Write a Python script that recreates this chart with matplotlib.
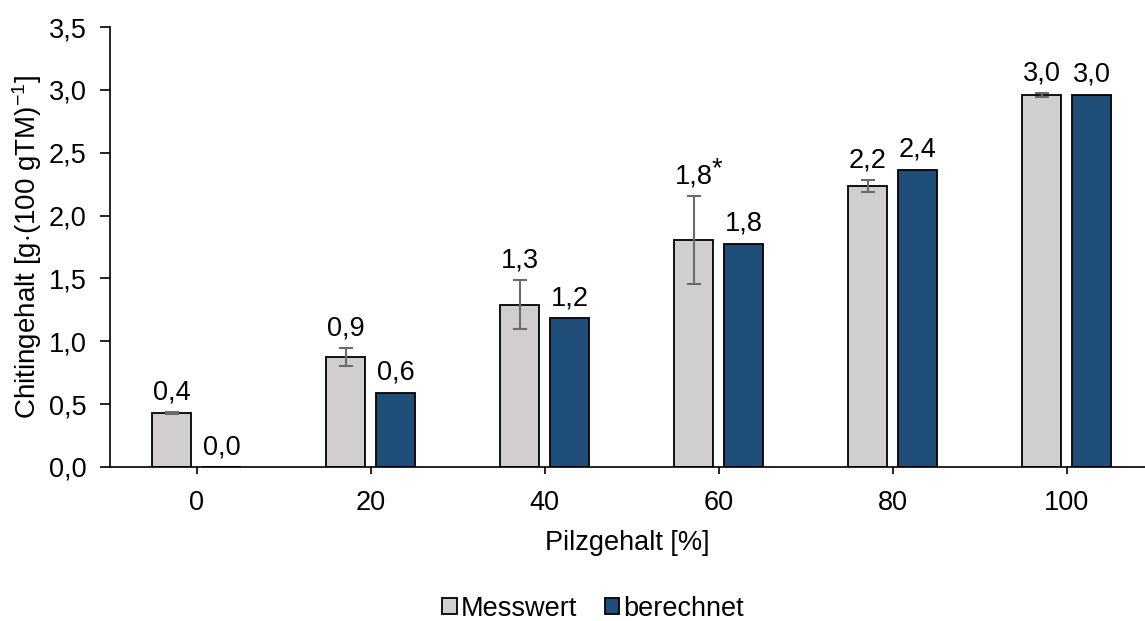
import matplotlib
matplotlib.use("Agg")
import matplotlib.pyplot as plt
import numpy as np

plt.rcParams['font.family'] = ['Liberation Sans', 'DejaVu Sans']
plt.rcParams['mathtext.fontset'] = 'custom'
plt.rcParams['mathtext.rm'] = 'Liberation Sans'
plt.rcParams['mathtext.it'] = 'Liberation Sans:italic'

# Data
categories = ["0", "20", "40", "60", "80", "100"]
messwert = [0.43, 0.875, 1.29, 1.805, 2.235, 2.96]
messwert_err = [0.006, 0.07, 0.195, 0.35, 0.045, 0.015]
berechnet = [0.0, 0.59, 1.185, 1.775, 2.365, 2.96]
label_messwert = ["0,4", "0,9", "1,3", "1,8", "2,2", "3,0"]
label_berechnet = ["0,0", "0,6", "1,2", "1,8", "2,4", "3,0"]
star_index = 3
yticks = [0.0, 0.5, 1.0, 1.5, 2.0, 2.5, 3.0, 3.5]

grey = "#d0cece"
navy = "#1f4e79"
fs = 19.5

fig = plt.figure(figsize=(11.45, 6.21), dpi=100)
ax = fig.add_axes([0.096, 0.248, 0.904, 0.7085])

x = np.arange(len(categories))
w = 0.224
off = 0.144

b1 = ax.bar(x - off, messwert, w, color=grey, edgecolor="black", linewidth=1.3,
            label="Messwert", zorder=2)
b2 = ax.bar(x + off, berechnet, w, color=navy, edgecolor="black", linewidth=1.3,
            label="berechnet", zorder=2)
ax.errorbar(x - off, messwert, yerr=messwert_err, fmt="none", ecolor="#6b6b6b",
            elinewidth=1.5, capsize=5, capthick=1.5, zorder=3)

for i in range(len(categories)):
    top = messwert[i] + messwert_err[i]
    ax.annotate(label_messwert[i], (x[i] - off, top), xytext=(0, 5),
                textcoords="offset points", ha="center", va="bottom", fontsize=fs)
    if i == star_index:
        ax.annotate("*", (x[i] - off, top), xytext=(13, 14.5),
                    textcoords="offset points", ha="left", va="baseline", fontsize=fs)
    ax.annotate(label_berechnet[i], (x[i] + off, berechnet[i]), xytext=(0, 5),
                textcoords="offset points", ha="center", va="bottom", fontsize=fs)

ax.set_xlim(-0.5, 5.45)
ax.set_ylim(0, 3.5)
ax.set_xticks(x)
ax.set_xticklabels(categories, fontsize=fs)
ax.set_yticks(yticks)
ax.set_yticklabels([f"{v:.1f}".replace(".", ",") for v in yticks], fontsize=fs)
ax.tick_params(axis="y", direction="out", length=7, width=1.2, pad=10)
ax.tick_params(axis="x", direction="out", length=5, width=1.2, pad=11.5)

for s in ["top", "right"]:
    ax.spines[s].set_visible(False)
ax.spines["left"].set_linewidth(1.2)
ax.spines["bottom"].set_linewidth(1.2)

ax.set_xlabel("Pilzgehalt [%]", fontsize=fs, labelpad=10)
ax.set_ylabel(r"Chitingehalt [g$\cdot$(100 gTM)$^{\mathregular{-1}}$]", fontsize=20, labelpad=3)

fig.legend(handles=[b1, b2], labels=["Messwert", "berechnet"], loc="center",
           bbox_to_anchor=(0.518, 0.02), ncol=2, frameon=False, fontsize=fs,
           handlelength=0.55, handleheight=0.55, handletextpad=0.15, columnspacing=1.0)

fig.savefig("out.png", dpi=100)
